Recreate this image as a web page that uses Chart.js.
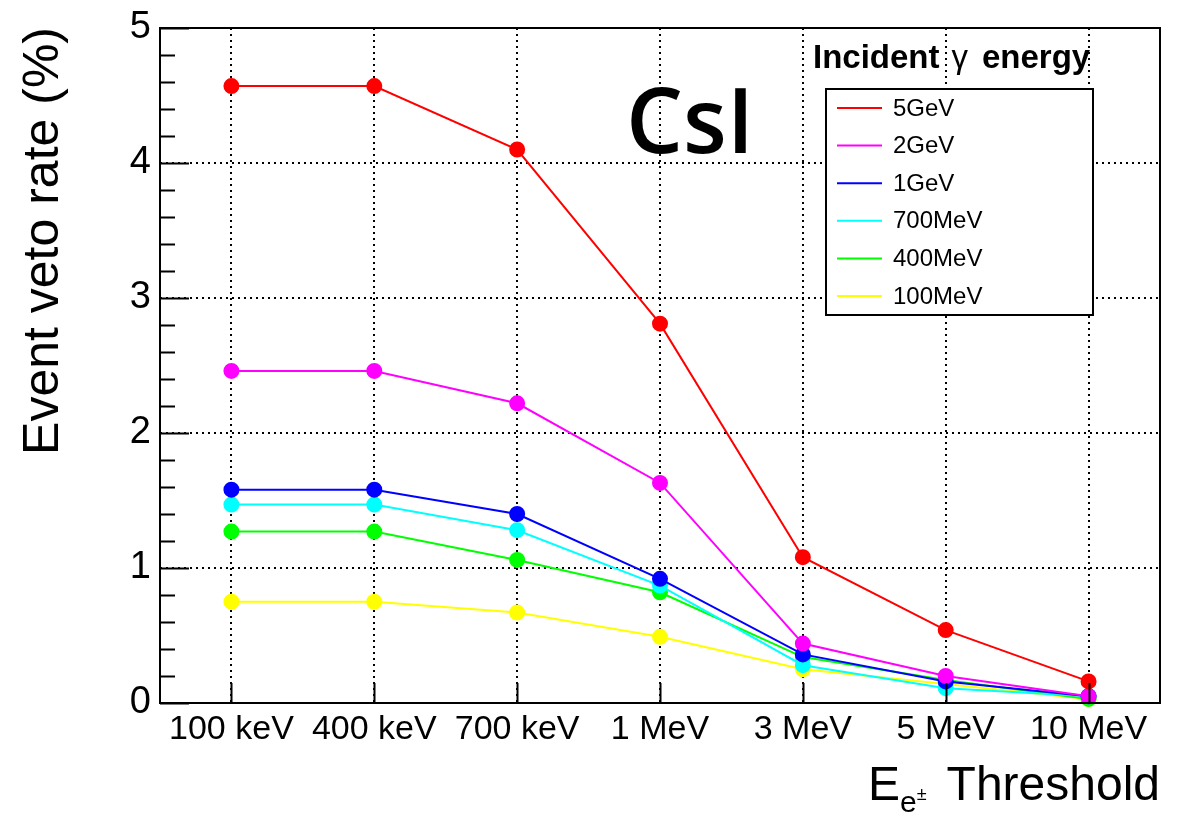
<!DOCTYPE html>
<html>
<head>
<meta charset="utf-8">
<script src="https://cdn.jsdelivr.net/npm/chart.js@4"></script>
<style>
  body { margin: 0; background: #fff; }
  #wrap { width: 1194px; height: 817px; position: relative; }
</style>
</head>
<body>
<div id="wrap"><canvas id="myChart"></canvas></div>
<script>
// thresholds on the x axis
const thresholds = ["100 keV", "400 keV", "700 keV", "1 MeV", "3 MeV", "5 MeV", "10 MeV"];

// veto rate (%) per incident gamma energy
const e5GeV   = [4.57, 4.57, 4.10, 2.81, 1.08, 0.54, 0.16];
const e2GeV   = [2.46, 2.46, 2.22, 1.63, 0.44, 0.20, 0.05];
const e1GeV   = [1.58, 1.58, 1.40, 0.92, 0.36, 0.16, 0.05];
const e700MeV = [1.47, 1.47, 1.28, 0.87, 0.28, 0.11, 0.05];
const e400MeV = [1.27, 1.27, 1.06, 0.82, 0.34, 0.17, 0.03];
const e100MeV = [0.75, 0.75, 0.67, 0.49, 0.25, 0.14, 0.03];

const seriesNames = ["5GeV", "2GeV", "1GeV", "700MeV", "400MeV", "100MeV"];
const seriesColors = ["#ff0000", "#ff00ff", "#0000ff", "#00ffff", "#00ff00", "#ffff00"];
const seriesData = [e5GeV, e2GeV, e1GeV, e700MeV, e400MeV, e100MeV];

const yTicks = [0, 1, 2, 3, 4, 5];

const FONT = "'Liberation Sans', Arial, Helvetica, sans-serif";

// frame, inward tick marks, titles and the legend box (ROOT look)
const rootDecor = {
  id: "rootDecor",
  afterDraw(chart) {
    const ctx = chart.ctx;
    const a = chart.chartArea;
    const xs = chart.scales.x;
    const ys = chart.scales.y;
    ctx.save();
    ctx.strokeStyle = "#000";
    ctx.lineWidth = 2;
    ctx.setLineDash([]);
    ctx.strokeRect(a.left, a.top, a.right - a.left, a.bottom - a.top);

    // y ticks: major at integers, minor every 0.2
    ctx.beginPath();
    for (let i = 0; i <= 25; i++) {
      const v = i * 0.2;
      const py = Math.round(ys.getPixelForValue(v)) + 0.5;
      const len = (i % 5 === 0) ? 29 : 15;
      ctx.moveTo(a.left, py);
      ctx.lineTo(a.left + len, py);
    }
    // x ticks at categories
    for (let i = 0; i < thresholds.length; i++) {
      const px = Math.round(xs.getPixelForValue(i)) + 0.5;
      ctx.moveTo(px, a.bottom);
      ctx.lineTo(px, a.bottom - 20);
    }
    ctx.stroke();

    // y title
    ctx.fillStyle = "#000";
    ctx.save();
    ctx.translate(58, 27);
    ctx.rotate(-Math.PI / 2);
    ctx.font = "50px " + FONT;
    ctx.textAlign = "right";
    ctx.textBaseline = "alphabetic";
    ctx.fillText("Event veto rate (%)", 0, 0);
    ctx.restore();

    // x title: E_{e±} Threshold, right aligned to the frame
    ctx.textBaseline = "alphabetic";
    ctx.textAlign = "left";
    ctx.font = "48px " + FONT;
    const wE = ctx.measureText("E").width;
    const wT = ctx.measureText(" Threshold").width;
    ctx.font = "30px " + FONT;
    const wSub = ctx.measureText("e\u00b1").width;
    let x0 = a.right - (wE + wSub + wT);
    ctx.font = "48px " + FONT;
    ctx.fillText("E", x0, 800);
    ctx.font = "30px " + FONT;
    ctx.fillText("e", x0 + wE, 812);
    const wSmallE = ctx.measureText("e").width;
    ctx.font = "18px " + FONT;
    ctx.fillText("\u00b1", x0 + wE + wSmallE, 800);
    ctx.font = "48px " + FONT;
    ctx.fillText(" Threshold", x0 + wE + wSub, 800);

    // material label
    ctx.font = "600 90px 'Open Sans', sans-serif";
    ctx.textAlign = "left";
    ctx.fillText("CsI", 626, 153);

    // legend header: bold words, plain gamma
    let hx = 813;
    ctx.textAlign = "left";
    ctx.font = "bold 33px " + FONT;
    ctx.fillText("Incident", hx, 68);
    hx += ctx.measureText("Incident").width + 12;
    ctx.font = "33px " + FONT;
    ctx.fillText("\u03b3", hx, 68);
    hx += ctx.measureText("\u03b3").width + 14;
    ctx.font = "bold 33px " + FONT;
    ctx.fillText("energy", hx, 68);

    // legend box
    const lx = 826, ly = 89, lw = 267, lh = 226;
    ctx.fillStyle = "#fff";
    ctx.fillRect(lx, ly, lw, lh);
    ctx.strokeStyle = "#000";
    ctx.lineWidth = 2;
    ctx.strokeRect(lx, ly, lw, lh);
    ctx.font = "24px " + FONT;
    ctx.textAlign = "left";
    ctx.textBaseline = "middle";
    chart.data.datasets.forEach((ds, i) => {
      const ry = 108 + i * 37.6;
      ctx.strokeStyle = ds.borderColor;
      ctx.lineWidth = 2;
      ctx.beginPath();
      ctx.moveTo(837, ry);
      ctx.lineTo(882, ry);
      ctx.stroke();
      ctx.fillStyle = "#000";
      ctx.fillText(ds.label, 893, ry + 1);
    });
    ctx.restore();
  }
};

const datasets = seriesNames.map((name, i) => ({
  label: name,
  data: seriesData[i],
  borderColor: seriesColors[i],
  backgroundColor: seriesColors[i],
  pointBackgroundColor: seriesColors[i],
  pointBorderColor: seriesColors[i],
  borderWidth: 2,
  pointRadius: 7,
  pointHoverRadius: 7,
  tension: 0,
  clip: false
}));

new Chart(document.getElementById("myChart"), {
  type: "line",
  data: { labels: thresholds, datasets: datasets },
  options: {
    responsive: true,
    maintainAspectRatio: false,
    animation: false,
    events: [],
    layout: { padding: { left: 0, top: 28, right: 34, bottom: 0 } },
    plugins: { legend: { display: false }, tooltip: { enabled: false } },
    scales: {
      x: {
        type: "category",
        offset: true,
        afterFit: (s) => { s.height = 114; s.paddingLeft = 0; s.paddingRight = 0; },
        grid: { display: true, color: "#000", lineWidth: 2, drawTicks: false, offset: false },
        border: { display: false, dash: [2, 4] },
        ticks: { color: "#000", font: { family: FONT, size: 34 }, padding: 6, maxRotation: 0, autoSkip: false }
      },
      y: {
        min: 0,
        max: 5,
        afterFit: (s) => { s.width = 160; s.paddingTop = 0; s.paddingBottom = 0; },
        afterBuildTicks: (s) => { s.ticks = yTicks.map(v => ({ value: v })); },
        grid: { display: true, color: "#000", lineWidth: 2, drawTicks: false },
        border: { display: false, dash: [2, 4] },
        ticks: { color: "#000", font: { family: FONT, size: 38 }, padding: 9 }
      }
    }
  },
  plugins: [rootDecor]
});
</script>
</body>
</html>
